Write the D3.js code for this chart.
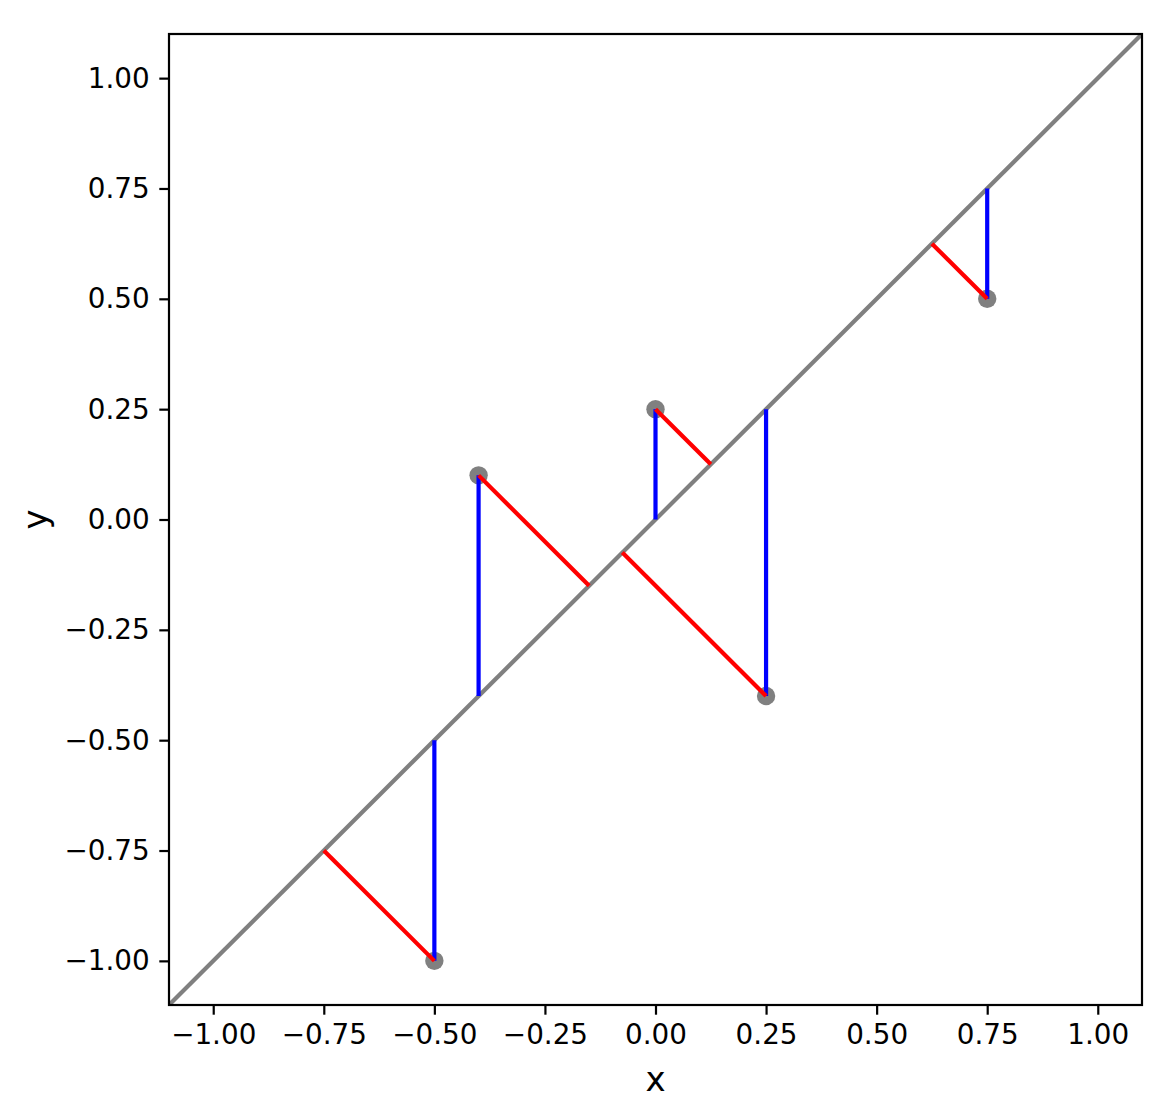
<!DOCTYPE html>
<html>
<head>
<meta charset="utf-8">
<script src="https://cdn.jsdelivr.net/npm/d3@7"></script>
<style>
body { margin: 0; background: #fff; }
text { font-family: "DejaVu Sans", sans-serif; }
</style>
</head>
<body>
<svg id="chart"></svg>
<script>
// points
var pointX = [-0.5, -0.4, 0.0, 0.25, 0.75];
var pointY = [-1.0, 0.1, 0.25, -0.4, 0.5];
// where each point's red segment meets the diagonal
var projX = [-0.75, -0.15, 0.125, -0.075, 0.625];
var tickValues = [-1.0, -0.75, -0.5, -0.25, 0.0, 0.25, 0.5, 0.75, 1.0];
var axisRange = [-1.1, 1.1];

var screen = {width: 1175, height: 1101};
var margins = {left: 169, right: 33, top: 34, bottom: 96};
var graph = {
    width: screen.width - margins.left - margins.right,
    height: screen.height - margins.top - margins.bottom
};

var svg = d3.select("#chart")
    .attr("width", screen.width)
    .attr("height", screen.height);

var target = svg.append("g")
    .attr("transform", "translate(" + margins.left + "," + margins.top + ")");

var xScale = d3.scaleLinear().domain(axisRange).range([0, graph.width]);
var yScale = d3.scaleLinear().domain(axisRange).range([graph.height, 0]);

var fmt = function(d) { return d3.format(".2f")(d).replace("-", "\u2212"); };

var xAxis = d3.axisBottom(xScale).tickValues(tickValues).tickFormat(fmt).tickSize(9.7).tickPadding(9.7);
var yAxis = d3.axisLeft(yScale).tickValues(tickValues).tickFormat(fmt).tickSize(9.7).tickPadding(9.7);

var gx = target.append("g")
    .attr("transform", "translate(0," + graph.height + ")")
    .call(xAxis);
var gy = target.append("g").call(yAxis);

[gx, gy].forEach(function(g) {
    g.attr("font-size", null).attr("font-family", null);
    g.select(".domain").remove();
    g.selectAll(".tick line").attr("stroke", "#000").attr("stroke-width", 2.2);
    g.selectAll(".tick text")
        .style("font-size", "27.8px")
        .style("font-family", "'DejaVu Sans', sans-serif")
        .attr("fill", "#000");
});

target.append("clipPath").attr("id", "clip")
    .append("rect").attr("width", graph.width).attr("height", graph.height);

var plot = target.append("g").attr("clip-path", "url(#clip)");

// diagonal y = x
plot.append("line")
    .attr("x1", xScale(axisRange[0]))
    .attr("y1", yScale(axisRange[0]))
    .attr("x2", xScale(axisRange[1]))
    .attr("y2", yScale(axisRange[1]))
    .attr("stroke", "gray")
    .attr("stroke-width", 4.2);

var idx = d3.range(pointX.length);

plot.selectAll("circle")
    .data(idx)
    .enter()
    .append("circle")
    .attr("cx", function(i) { return xScale(pointX[i]); })
    .attr("cy", function(i) { return yScale(pointY[i]); })
    .attr("r", 9.2)
    .attr("fill", "gray");

// vertical residuals
plot.selectAll(".vert")
    .data(idx)
    .enter()
    .append("line")
    .attr("class", "vert")
    .attr("x1", function(i) { return xScale(pointX[i]); })
    .attr("y1", function(i) { return yScale(pointY[i]); })
    .attr("x2", function(i) { return xScale(pointX[i]); })
    .attr("y2", function(i) { return yScale(pointX[i]); })
    .attr("stroke", "blue")
    .attr("stroke-width", 4.2);

// orthogonal residuals
plot.selectAll(".orth")
    .data(idx)
    .enter()
    .append("line")
    .attr("class", "orth")
    .attr("x1", function(i) { return xScale(pointX[i]); })
    .attr("y1", function(i) { return yScale(pointY[i]); })
    .attr("x2", function(i) { return xScale(projX[i]); })
    .attr("y2", function(i) { return yScale(projX[i]); })
    .attr("stroke", "red")
    .attr("stroke-width", 4.2);

// frame
target.append("rect")
    .attr("width", graph.width)
    .attr("height", graph.height)
    .attr("fill", "none")
    .attr("stroke", "#000")
    .attr("stroke-width", 2.2);

target.append("text")
    .text("x")
    .attr("text-anchor", "middle")
    .attr("x", graph.width / 2)
    .attr("y", 1091 - margins.top)
    .style("font-size", "34px");

svg.append("g")
    .attr("transform", "translate(" + 47 + "," + (margins.top + graph.height / 2) + ")")
    .append("text")
    .text("y")
    .attr("text-anchor", "middle")
    .attr("transform", "rotate(270)")
    .style("font-size", "34px");
</script>
</body>
</html>
